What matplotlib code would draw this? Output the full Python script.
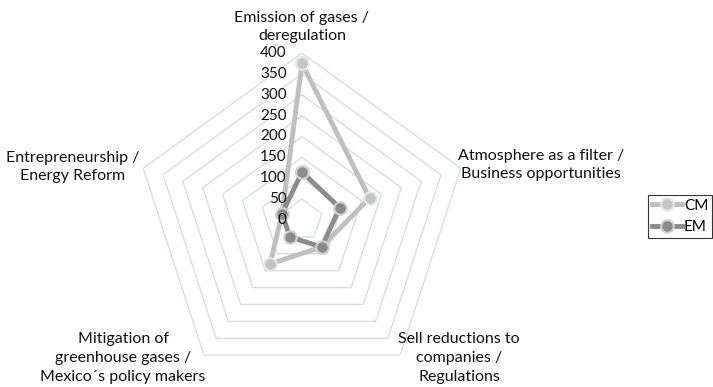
import numpy as np
import matplotlib
matplotlib.use("Agg")
import matplotlib.pyplot as plt

categories = ["Emission of gases /\nderegulation",
              "Atmosphere as a filter /\nBusiness opportunities",
              "Sell reductions to\ncompanies /\nRegulations",
              "Mitigation of\ngreenhouse gases /\nMexico´s policy makers",
              "Entrepreneurship /\nEnergy Reform"]
cm_values = [375, 170, 80, 130, 50]
em_values = [115, 95, 80, 50, 50]
levels = [0, 50, 100, 150, 200, 250, 300, 350, 400]

plt.rcParams['font.family'] = ['Lato', 'DejaVu Sans']

W, H = 713, 387
fig = plt.figure(figsize=(W / 100, H / 100), dpi=100)
cx, cy, R = 302, 220, 167
ax = fig.add_axes([(cx - R) / W, (H - cy - R) / H, 2 * R / W, 2 * R / H], projection='polar')
ax.set_theta_offset(np.pi / 2)
ax.set_theta_direction(-1)
ax.set_ylim(0, 400)
ax.set_axis_off()

n = len(categories)
angles = np.linspace(0, 2 * np.pi, n, endpoint=False)
closed = np.concatenate([angles, angles[:1]])

grid_color = '#d6dce8'
for lv in levels[1:]:
    ax.plot(closed, [lv] * (n + 1), color=grid_color, lw=1.0, zorder=1)

for lv in levels:
    ax.annotate(str(lv), xy=(0, lv), xytext=(-11, 0), textcoords='offset points',
                ha='right', va='center', fontsize=11, color='#111111', zorder=6)

def series(vals, lc, mfc, mec, label, z):
    v = list(vals) + [vals[0]]
    ax.plot(closed, v, color=lc, lw=3.5, marker='o', markersize=9,
            markerfacecolor=mfc, markeredgecolor=mec, markeredgewidth=1.5,
            label=label, zorder=z, clip_on=False)

series(cm_values, '#bfbfbf', '#c4c4c4', '#e6e6e6', 'CM', 3)
series(em_values, '#8c8c8c', '#8a8a8a', '#d0d0d0', 'EM', 4)

label_pos = [(302, 27), (541, 165), (459, 358), (123, 358), (73, 167)]
for (x, y), txt in zip(label_pos, categories):
    fig.text(x / W, 1 - y / H, txt, ha='center', va='center', fontsize=11.5,
             color='#111111', linespacing=1.45)

leg = fig.legend(loc='upper left', bbox_to_anchor=(648 / W, 1 - 195 / H),
                 frameon=True, fontsize=11, handlelength=2.0, handletextpad=0.1,
                 labelspacing=0.5, borderpad=0.25, borderaxespad=0, fancybox=False)
leg.get_frame().set_edgecolor('black')
leg.get_frame().set_linewidth(0.8)

fig.savefig('out.png', dpi=100, facecolor='white')
